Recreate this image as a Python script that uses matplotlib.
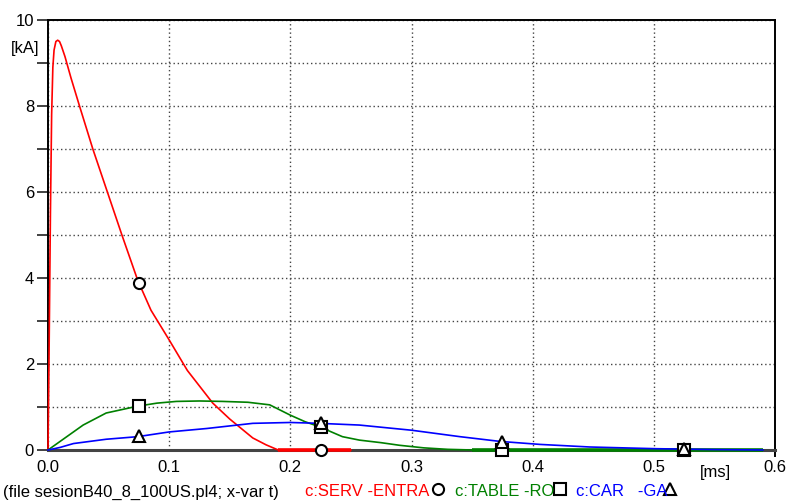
import numpy as np
import matplotlib
matplotlib.use("Agg")
import matplotlib.pyplot as plt
from matplotlib.lines import Line2D

plt.rcParams['font.family'] = ['Liberation Sans', 'DejaVu Sans']

# Time in ms, current in kA
serv_t = [0, 0.0008, 0.002, 0.003, 0.004, 0.005, 0.0065, 0.008, 0.0095, 0.011,
          0.014, 0.019, 0.026, 0.037, 0.049, 0.061, 0.074, 0.085, 0.1, 0.115,
          0.136, 0.15, 0.169, 0.18, 0.19, 0.25]
serv_i = [0, 2.0, 5.5, 7.8, 8.9, 9.3, 9.5, 9.53, 9.5, 9.4,
          9.15, 8.65, 8.0, 7.0, 6.0, 5.0, 3.95, 3.25, 2.56, 1.85,
          1.09, 0.72, 0.28, 0.12, 0.0, 0.0]

table_t = [0, 0.015, 0.029, 0.048, 0.074, 0.09, 0.106, 0.125, 0.144, 0.165,
           0.183, 0.2, 0.212, 0.224, 0.243, 0.257, 0.275, 0.29, 0.31, 0.33,
           0.35, 0.59]
table_i = [0, 0.3, 0.58, 0.86, 1.02, 1.09, 1.13, 1.14, 1.13, 1.11,
           1.05, 0.81, 0.66, 0.54, 0.31, 0.23, 0.17, 0.11, 0.05, 0.015,
           0.0, 0.0]

car_t = [0, 0.01, 0.021, 0.048, 0.074, 0.1, 0.131, 0.169, 0.2, 0.224,
         0.257, 0.282, 0.3, 0.34, 0.373, 0.406, 0.447, 0.502, 0.55, 0.59]
car_i = [0, 0.06, 0.15, 0.25, 0.31, 0.42, 0.50, 0.62, 0.64, 0.62,
         0.58, 0.51, 0.46, 0.31, 0.20, 0.13, 0.07, 0.03, 0.01, 0.0]

marker_times = [0.075, 0.225, 0.375, 0.525]

series = [
    ("c:SERV -ENTRA", serv_t, serv_i, "#ff0000", "o"),
    ("c:TABLE -RO", table_t, table_i, "#008000", "s"),
    ("c:CAR   -GA", car_t, car_i, "#0000ff", "^"),
]

FS = 12
MS = 8
fig = plt.figure(figsize=(7.86, 5.04), dpi=100)
ax = fig.add_axes([48 / 786, 1 - 450 / 504, (775 - 48) / 786, (450 - 20) / 504])

ax.set_xlim(0, 0.6)
ax.set_ylim(0, 10)
ax.set_xticks(np.arange(0, 0.61, 0.1))
ax.set_xticklabels(["0.0", "0.1", "0.2", "0.3", "0.4", "0.5", "0.6"])
ax.set_yticks(np.arange(0, 11, 2))
ax.set_yticks(np.arange(1, 10, 2), minor=True)
ax.tick_params(axis='x', length=0, pad=7, labelsize=FS)
ax.tick_params(axis='y', which='both', length=8, width=1.3, color='#333333',
               direction='out', pad=2, labelsize=FS)
ax.grid(True, which='both', axis='y', linestyle=(0, (1, 2)), color='#444444', lw=1)
ax.grid(True, which='major', axis='x', linestyle=(0, (1, 2)), color='#444444', lw=1)

for side in ['left', 'top', 'right']:
    ax.spines[side].set_color('black')
    ax.spines[side].set_linewidth(1.4)
ax.spines['bottom'].set_color('#444444')
ax.spines['bottom'].set_linewidth(2.2)
# right frame edge runs a little below the baseline
ax.add_line(Line2D([1, 1], [0, -0.014], transform=ax.transAxes, color='black',
                   lw=1.4, clip_on=False))

for name, t, i, color, mk in series:
    t = np.asarray(t)
    i = np.asarray(i)
    ax.plot(t, i, color=color, lw=1.2, zorder=3, clip_on=False)
    # zero-valued stretches drawn along the baseline
    zero = i == 0
    if zero.any():
        zt = t[zero]
        runs = np.split(zt, np.where(np.diff(np.where(zero)[0]) != 1)[0] + 1)
        for r in runs:
            if len(r) > 1:
                ax.plot(r, np.zeros_like(r), color=color, lw=2.6, zorder=3,
                        solid_capstyle='butt', clip_on=False)
    mt = np.array([m for m in marker_times if m <= t[-1]])
    mi = np.interp(mt, t, i)
    ax.plot(mt, mi, linestyle='none', marker=mk, markersize=MS,
            markerfacecolor='white', markeredgecolor='black',
            markeredgewidth=1.5, zorder=5, clip_on=False)

fig.text(39 / 786, 1 - 49 / 504, "[kA]", ha='right', va='center', fontsize=FS)
fig.text(715 / 786, 1 - 472 / 504, "[ms]", ha='center', va='center', fontsize=FS)

# bottom caption with trace names
cap_y = 1 - 492 / 504
fig.text(3 / 786, cap_y, "(file sesionB40_8_100US.pl4; x-var t)", ha='left',
         va='center', fontsize=FS)
legend_pos = [(305, 438), (455, 560), (576, 670)]
for (name, t, i, color, mk), (tx, mx) in zip(series, legend_pos):
    fig.text(tx / 786, cap_y, name, ha='left', va='center', fontsize=FS, color=color)
    fig.add_artist(Line2D([mx / 786], [1 - 489 / 504], marker=mk, markersize=MS,
                          markerfacecolor='white', markeredgecolor='black',
                          markeredgewidth=1.5, linestyle='none',
                          transform=fig.transFigure))

fig.savefig("out.png", dpi=100)
